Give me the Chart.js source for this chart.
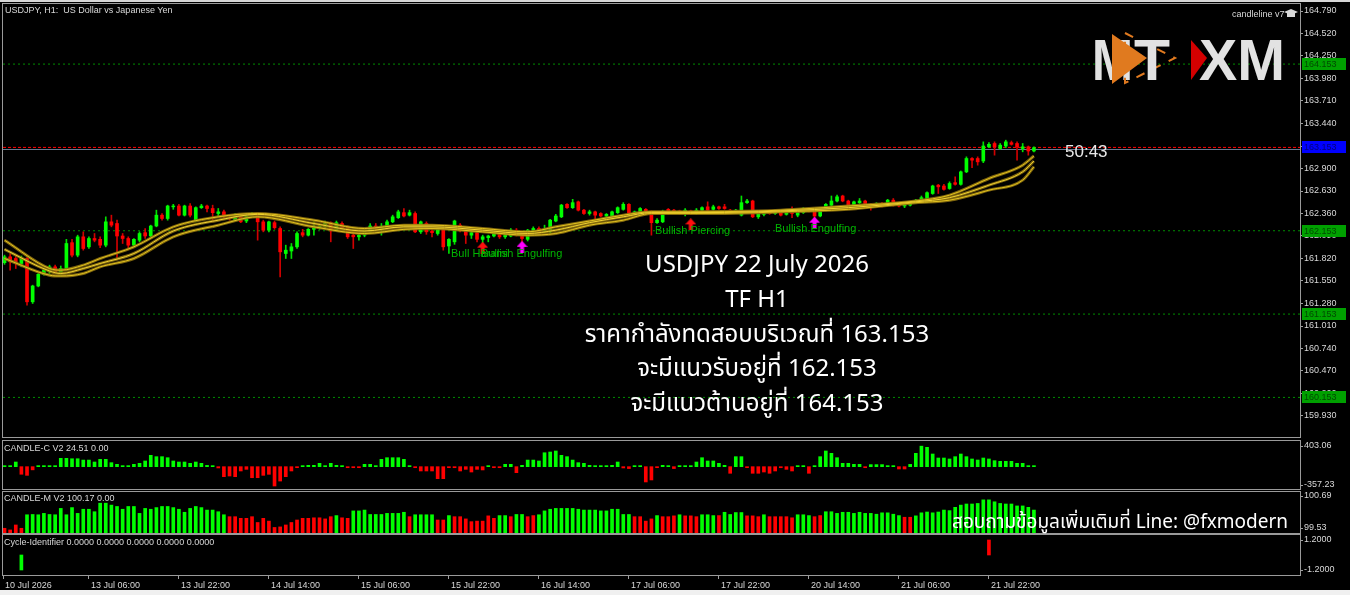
<!DOCTYPE html>
<html>
<head>
<meta charset="utf-8">
<title>USDJPY H1</title>
<script src="https://cdn.jsdelivr.net/npm/chart.js@4.4.1/dist/chart.umd.min.js"></script>
<style>
  html, body { margin: 0; padding: 0; background: #f0f0f0; }
  #wrap { position: relative; width: 1350px; height: 590px; background: #000; overflow: hidden; }
  #topline { position: absolute; left: 0; top: 0; width: 1350px; height: 2px; background: #d6d6d6; }
  canvas { position: absolute; left: 0; }
  .t { position: absolute; white-space: pre; font-family: "Liberation Sans", Arial, sans-serif; }
  .small { font-size: 9px; color: #d8d8d8; line-height: 10px; }
  .pat { font-size: 11px; color: #00b400; line-height: 12px; }
  #note { position: absolute; left: 557px; top: 248px; width: 400px; text-align: center; color: #fff;
          font-family: "Noto Sans Thai", "Noto Sans", "Open Sans", sans-serif; font-size: 24px; line-height: 34.8px; }
  #line { position: absolute; right: 62px; top: 511px; color: #fff; white-space: pre;
          font-family: "Noto Sans Thai", "Noto Sans", "Open Sans", sans-serif; font-size: 19px; line-height: 24px; }
</style>
</head>
<body>
<div id="wrap">
  <div id="topline"></div>
  <canvas id="main" width="1350" height="437" style="top:3px"></canvas>
  <canvas id="cc" width="1350" height="50" style="top:440px"></canvas>
  <canvas id="cm" width="1350" height="44" style="top:490px"></canvas>
  <canvas id="cy" width="1350" height="56" style="top:534px"></canvas>

  <div class="t small" style="left:5px;top:5px">USDJPY, H1:  US Dollar vs Japanese Yen</div>
  <div class="t small" style="left:1232px;top:9px">candleline v7</div>
  <svg style="position:absolute;left:1284px;top:8px" width="14" height="12">
    <polygon points="7,1 14,4 7,7 0,4" fill="#d8d8d8"/>
    <rect x="3" y="5" width="8" height="4" fill="#d8d8d8"/>
  </svg>
  <svg style="position:absolute;left:1085px;top:30px" width="210" height="58">
    <text x="7" y="50" font-family="Liberation Sans, Arial" font-weight="bold" font-size="58" fill="#e2e2e2" textLength="41" lengthAdjust="spacingAndGlyphs">M</text>
    <polygon points="40,3 90,28 40,53" fill="none" stroke="#e07a1f" stroke-width="2" stroke-dasharray="9 9"/>
    <polygon points="27,4 62,28 27,54" fill="#e07a1f"/>
    <text x="49" y="50" font-family="Liberation Sans, Arial" font-weight="bold" font-size="58" fill="#e2e2e2" textLength="36" lengthAdjust="spacingAndGlyphs">T</text>
    <polygon points="106,10 122,28 106,50" fill="#d40000"/>
    <text x="114" y="50" font-family="Liberation Sans, Arial" font-weight="bold" font-size="58" fill="#e2e2e2" textLength="86" lengthAdjust="spacingAndGlyphs">XM</text>
  </svg>
  <div class="t" style="left:1065px;top:142px;font-size:17px;color:#e8e8e8">50:43</div>

  <div class="t pat" style="left:451px;top:247px">Bull Harami</div>
  <div class="t pat" style="left:481px;top:247px">Bullish Engulfing</div>
  <div class="t pat" style="left:655px;top:224px">Bullish Piercing</div>
  <div class="t pat" style="left:775px;top:222px">Bullish Engulfing</div>

  <div id="note">USDJPY 22 July 2026<br>TF H1<br>ราคากำลังทดสอบบริเวณที่ 163.153<br>จะมีแนวรับอยู่ที่ 162.153<br>จะมีแนวต้านอยู่ที่ 164.153</div>

  <div class="t small" style="left:4px;top:443px">CANDLE-C V2 24.51 0.00</div>
  <div class="t small" style="left:4px;top:493px">CANDLE-M V2 100.17 0.00</div>
  <div class="t small" style="left:4px;top:537px">Cycle-Identifier 0.0000 0.0000 0.0000 0.0000 0.0000</div>
  <div id="line">สอบถามข้อมูลเพิ่มเติมที่ Line: @fxmodern</div>
</div>

<script>
// H1 candles, oldest first
const candleOpen = [
  161.77,161.84,161.82,161.76,161.82,161.30,161.49,161.63,161.66,161.72,
  161.65,161.70,162.01,161.86,162.08,161.96,162.06,162.05,161.98,162.26,
  162.24,162.09,162.06,161.98,162.04,162.13,162.09,162.21,162.34,162.30,
  162.44,162.45,162.34,162.45,162.28,162.43,162.45,162.42,162.36,162.38,
  162.31,162.28,162.32,162.27,162.34,162.35,162.26,162.16,162.25,162.18,
  161.88,161.91,161.96,162.13,162.10,162.17,162.19,162.20,162.25,162.16,
  162.24,162.20,162.10,162.08,162.10,162.14,162.21,162.18,162.20,162.26,
  162.31,162.37,162.34,162.36,162.14,162.24,162.15,162.12,162.17,161.97,
  162.02,162.22,162.16,162.10,162.13,162.05,162.07,162.09,162.13,162.08,
  162.09,162.16,162.12,162.05,162.14,162.18,162.14,162.14,162.27,162.32,
  162.47,162.43,162.50,162.40,162.36,162.38,162.36,162.33,162.33,162.37,
  162.41,162.47,162.36,162.37,162.41,162.38,162.25,162.26,162.41,162.40,
  162.39,162.37,162.39,162.36,162.40,162.44,162.41,162.44,162.44,162.40,
  162.37,162.34,162.49,162.51,162.32,162.35,162.38,162.36,162.38,162.35,
  162.39,162.34,162.37,162.41,162.40,162.33,162.40,162.46,162.51,162.57,
  162.51,162.45,162.49,162.51,162.47,162.45,162.48,162.46,162.52,162.48,
  162.45,162.46,162.49,162.51,162.50,162.60,162.70,162.69,162.66,162.73,
  162.71,162.86,163.02,163.02,162.99,163.16,163.20,163.14,163.17,163.21,
  163.20,163.14,163.16,163.11
];
const candleHigh = [
  161.86,161.88,161.86,161.85,161.83,161.50,161.64,161.70,161.74,161.74,
  161.73,162.05,162.05,162.10,162.14,162.08,162.12,162.08,162.32,162.34,
  162.28,162.12,162.08,162.06,162.14,162.18,162.22,162.40,162.36,162.46,
  162.47,162.47,162.46,162.48,162.44,162.47,162.46,162.46,162.42,162.40,
  162.33,162.36,162.34,162.36,162.37,162.36,162.28,162.27,162.27,162.20,
  161.98,162.00,162.14,162.17,162.18,162.26,162.23,162.27,162.26,162.27,
  162.26,162.21,162.12,162.12,162.16,162.24,162.24,162.24,162.28,162.34,
  162.40,162.42,162.40,162.38,162.27,162.26,162.18,162.20,162.18,162.06,
  162.28,162.24,162.17,162.16,162.14,162.10,162.10,162.14,162.15,162.12,
  162.18,162.18,162.14,162.17,162.20,162.20,162.22,162.29,162.35,162.47,
  162.48,162.53,162.51,162.41,162.40,162.39,162.37,162.36,162.39,162.44,
  162.49,162.48,162.39,162.43,162.42,162.39,162.30,162.40,162.42,162.41,
  162.40,162.42,162.40,162.42,162.44,162.50,162.46,162.45,162.47,162.41,
  162.41,162.57,162.53,162.52,162.37,162.39,162.40,162.40,162.39,162.40,
  162.44,162.39,162.43,162.42,162.41,162.41,162.48,162.57,162.58,162.58,
  162.52,162.51,162.54,162.52,162.48,162.49,162.49,162.53,162.54,162.49,
  162.48,162.50,162.53,162.57,162.62,162.70,162.71,162.71,162.74,162.80,
  162.87,163.04,163.03,163.04,163.22,163.21,163.22,163.20,163.24,163.23,
  163.22,163.20,163.17,163.16
];
const candleLow = [
  161.75,161.68,161.70,161.72,161.26,161.28,161.48,161.62,161.64,161.64,
  161.62,161.68,161.84,161.84,161.92,161.94,162.02,161.95,161.96,162.20,
  161.81,162.00,161.95,161.96,162.02,162.06,162.08,162.20,162.28,162.28,
  162.41,162.33,162.33,162.32,162.26,162.42,162.38,162.26,162.33,162.31,
  162.28,162.27,162.25,162.25,162.33,162.04,162.14,162.14,162.17,161.60,
  161.82,161.82,161.94,162.08,162.09,162.10,162.17,162.19,162.02,162.15,
  162.17,162.06,161.94,162.04,162.08,162.12,162.16,162.10,162.19,162.25,
  162.30,162.32,162.33,162.13,162.12,162.11,162.08,162.10,161.92,161.88,
  161.99,162.14,162.00,162.06,162.02,162.00,162.02,162.08,162.06,162.06,
  162.08,162.09,161.98,162.03,162.12,162.12,162.13,162.13,162.26,162.31,
  162.42,162.42,162.39,162.35,162.34,162.29,162.32,162.31,162.32,162.36,
  162.40,162.35,162.35,162.36,162.37,162.10,162.24,162.25,162.35,162.36,
  162.35,162.33,162.35,162.35,162.39,162.39,162.40,162.41,162.41,162.36,
  162.36,162.33,162.48,162.31,162.30,162.33,162.35,162.35,162.33,162.34,
  162.31,162.32,162.36,162.38,162.25,162.32,162.39,162.45,162.50,162.50,
  162.45,162.44,162.48,162.46,162.40,162.44,162.44,162.45,162.45,162.44,
  162.43,162.45,162.48,162.50,162.49,162.59,162.60,162.64,162.65,162.70,
  162.70,162.85,162.91,162.94,162.97,163.15,163.06,163.13,163.15,163.18,
  163.00,163.10,163.06,163.10
];
const candleClose = [
  161.84,161.78,161.76,161.82,161.30,161.49,161.63,161.68,161.72,161.66,
  161.70,162.00,161.86,162.08,161.94,162.06,162.04,161.98,162.26,162.22,
  162.09,162.06,161.98,162.05,162.12,162.09,162.21,162.34,162.30,162.45,
  162.45,162.34,162.45,162.34,162.43,162.45,162.42,162.37,162.38,162.33,
  162.30,162.33,162.26,162.34,162.35,162.26,162.16,162.26,162.19,161.90,
  161.92,161.96,162.12,162.10,162.17,162.20,162.21,162.25,162.15,162.25,
  162.19,162.08,162.08,162.10,162.14,162.21,162.18,162.20,162.26,162.32,
  162.38,162.33,162.37,162.14,162.26,162.14,162.13,162.18,161.96,162.05,
  162.27,162.16,162.10,162.13,162.05,162.08,162.09,162.13,162.08,162.10,
  162.16,162.11,162.06,162.16,162.18,162.13,162.16,162.28,162.33,162.46,
  162.43,162.49,162.40,162.36,162.38,162.34,162.33,162.35,162.38,162.43,
  162.47,162.36,162.38,162.42,162.38,162.25,162.28,162.38,162.37,162.37,
  162.37,162.40,162.36,162.40,162.43,162.40,162.44,162.42,162.42,162.37,
  162.40,162.49,162.51,162.32,162.36,162.38,162.36,162.38,162.34,162.39,
  162.36,162.38,162.42,162.39,162.33,162.40,162.47,162.51,162.56,162.51,
  162.46,162.50,162.51,162.47,162.45,162.48,162.45,162.52,162.46,162.45,
  162.47,162.49,162.52,162.55,162.61,162.69,162.68,162.65,162.72,162.71,
  162.86,163.02,163.00,162.98,163.17,163.19,163.16,163.18,163.22,163.19,
  163.16,163.16,163.11,163.15
];

// the three moving averages, sampled at these bars
const maIdx  = [0, 8, 10, 14, 17, 23, 30, 38, 45, 55, 64, 71, 76, 85, 93, 98, 104, 110, 115, 122, 134, 138, 150, 162, 168, 175, 181, 183];
const maFast = [162.04,161.70,161.68,161.74,161.82,161.96,162.20,162.32,162.36,162.28,162.18,162.22,162.22,162.18,162.14,162.20,162.27,162.34,162.38,162.38,162.39,162.40,162.45,162.51,162.58,162.78,162.94,163.05];
const maMid  = [161.93,161.67,161.64,161.70,161.76,161.88,162.15,162.28,162.35,162.24,162.15,162.20,162.20,162.16,162.12,162.16,162.25,162.32,162.37,162.37,162.38,162.39,162.43,162.50,162.55,162.70,162.86,162.99];
const maSlow = [161.82,161.62,161.61,161.64,161.72,161.82,162.08,162.22,162.32,162.20,162.12,162.17,162.18,162.14,162.10,162.12,162.22,162.28,162.36,162.36,162.37,162.38,162.41,162.49,162.52,162.64,162.76,162.92];

// candle pattern arrows
const patternIdx   = [85, 92, 122, 144];
const patternPrice = [161.95, 161.96, 162.23, 162.25];
const patternKind  = ['harami', 'engulfing', 'piercing', 'engulfing'];

// horizontal levels
const levelLines = [164.153, 162.153, 161.153, 160.153];
const bidPrice = 163.153;
const askPrice = 163.128;

// CANDLE-C V2 histogram
const candleC = [
  20,20,91,-148,-169,-62,20,20,20,20,
  163,163,155,155,129,129,91,143,143,78,
  46,20,20,46,65,111,221,195,195,175,
  111,91,91,65,91,65,25,20,-25,-195,
  -182,-195,-84,-52,-215,-215,-169,-149,-377,-280,
  -195,-84,-20,20,26,26,65,20,65,26,
  20,-20,-20,-20,46,46,20,143,175,175,
  175,143,20,-20,-84,-84,-84,-234,-234,-20,
  -20,-84,-52,-104,-52,-64,20,-20,-20,46,
  46,-117,26,129,129,111,272,286,306,221,
  195,129,78,65,26,20,20,20,26,91,
  -25,-37,20,20,-298,-259,-20,26,20,-37,
  20,20,20,91,175,111,111,65,26,-129,
  195,195,-20,-129,-129,-104,-129,-84,-20,-52,
  -84,20,20,-129,20,195,306,260,175,65,
  65,46,46,-20,40,40,40,20,20,-45,
  -45,45,260,400,377,247,169,169,150,195,
  247,195,150,130,169,150,117,104,104,104,
  65,65,20,20
];

// CANDLE-M V2 histogram and its colour state (u = green, d = red)
const candleM = [
  99.52,99.46,99.64,99.52,100.01,100.02,100.01,100.06,100.02,100.01,
  100.24,100.01,100.27,100.06,100.21,100.21,100.12,100.43,100.43,100.36,
  100.31,100.21,100.31,100.31,100.06,100.24,100.21,100.27,100.31,100.31,
  100.27,100.21,100.10,100.24,100.31,100.27,100.18,100.18,100.12,100.01,
  99.94,99.94,99.88,99.88,99.94,99.73,99.88,99.78,99.55,99.57,
  99.64,99.73,99.82,99.88,99.88,99.90,99.90,99.86,99.94,99.98,
  99.90,99.88,100.15,100.15,100.18,100.02,100.02,100.02,100.06,100.06,
  100.06,100.10,99.94,100.01,100.01,100.01,100.01,99.82,99.82,99.98,
  99.94,99.94,99.86,99.76,99.78,99.78,99.97,99.88,99.98,99.98,
  99.94,100.02,100.02,99.94,99.98,100.01,100.15,100.21,100.24,100.24,
  100.24,100.24,100.21,100.18,100.18,100.18,100.15,100.15,100.21,100.21,
  100.02,100.02,99.94,99.94,99.78,99.86,99.98,99.94,99.94,99.97,
  100.01,99.97,99.97,99.94,100.01,100.01,99.98,99.98,100.10,100.02,
  100.09,100.09,99.97,99.97,99.94,100.01,99.94,99.94,99.94,99.94,
  99.90,100.01,100.01,99.98,99.94,99.98,100.12,100.12,100.06,100.10,
  100.10,100.06,100.10,100.06,100.06,100.03,100.08,100.08,100.03,99.98,
  99.92,99.92,99.97,100.08,100.11,100.08,100.11,100.18,100.16,100.28,
  100.36,100.40,100.40,100.42,100.55,100.55,100.48,100.42,100.40,100.40,
  100.33,100.33,100.28,100.18
];
const candleMDir = (
  'dddduuuuuu' + 'uuuuuuuuuu' + 'uuuuuuuuuu' + 'uuuuuuuuuu' + 'dddddddddd' +
  'dddddddddu' + 'dduuuuuuuu' + 'uuduuuuddu' + 'dddddddduu' + 'duudduuuuu' +
  'uuuuuuuuuu' + 'uudddduddd' + 'uddduuuduu' + 'uudddudddd' + 'duuudduuuu' +
  'uuuuuuuuuu' + 'dduuuuuuuu' + 'uuuuuuuuuu' + 'uuuu'
).split('');

// Cycle-Identifier signals
const cycleIdx = [3, 175];
const cycleVal = [-1.2, 1.2];

// axis ticks
const priceTicks = [164.79,164.52,164.25,163.98,163.71,163.44,163.17,162.90,162.63,162.36,162.09,161.82,161.55,161.28,161.01,160.74,160.47,160.20,159.93];
const timeTickIdx = [-0.25, 15, 31, 47, 63, 79, 95, 111, 127, 143, 159, 175];
const timeTickLabels = ['10 Jul 2026', '13 Jul 06:00', '13 Jul 22:00', '14 Jul 14:00', '15 Jul 06:00', '15 Jul 22:00',
                        '16 Jul 14:00', '17 Jul 06:00', '17 Jul 22:00', '20 Jul 14:00', '21 Jul 06:00', '21 Jul 22:00'];

const xMin = -0.27;
const xMax = 230.3;
const upColor = '#00ff00';
const downColor = '#ff0000';
const axisColor = '#a0a0a0';
const labelColor = '#d8d8d8';

Chart.defaults.font.family = '"Liberation Sans", Arial, sans-serif';
Chart.defaults.font.size = 9;

const isUp = i => candleClose[i] >= candleOpen[i];

const xScale = (show) => ({
    type: 'linear',
    min: xMin,
    max: xMax,
    offset: false,
    display: show,
    grid: { drawOnChartArea: false, drawTicks: true, tickLength: 4, tickColor: axisColor, offset: false },
    border: { display: false },
    ticks: {
        color: labelColor, align: 'start', labelOffset: 2, padding: 1,
        maxRotation: 0, autoSkip: false,
        callback: (v, i) => timeTickLabels[i]
    },
    afterBuildTicks: s => { if (show) s.ticks = timeTickIdx.map(v => ({ value: v })); },
    afterFit: s => {
        if (show) s.height = 15;
        s.paddingLeft = 0;
        s.paddingRight = 0;
    }
});

const yScale = (min, max, tickVals, digits) => ({
    type: 'linear',
    position: 'right',
    min: min,
    max: max,
    grid: { drawOnChartArea: false, drawTicks: true, tickLength: 3, tickColor: axisColor },
    border: { color: axisColor },
    ticks: { color: labelColor, padding: 1, autoSkip: false, callback: v => v.toFixed(digits) },
    afterBuildTicks: s => { s.ticks = tickVals.map(v => ({ value: v })); },
    afterFit: s => { s.width = 50; s.paddingTop = 0; s.paddingBottom = 0; }
});

// grey frame round every sub window
const framePlugin = {
    id: 'frame',
    afterDraw(chart) {
        const { ctx, chartArea: a } = chart;
        ctx.save();
        ctx.strokeStyle = '#9a9a9a';
        ctx.lineWidth = 1;
        ctx.strokeRect(a.left - 0.5, a.top - 0.5, a.right - a.left + 1, a.bottom - a.top + 1);
        ctx.restore();
    }
};

// price tags on the right axis for the levels and the bid
const levelTags = {
    id: 'levelTags',
    afterDraw(chart) {
        const { ctx, chartArea: a, scales: { y } } = chart;
        ctx.save();
        ctx.font = '9px "Liberation Sans", Arial';
        ctx.textBaseline = 'middle';
        const tag = (v, bg, fg) => {
            const py = Math.round(y.getPixelForValue(v));
            ctx.fillStyle = bg;
            ctx.fillRect(a.right + 2, py - 6, 44, 12);
            ctx.fillStyle = fg;
            ctx.fillText(v.toFixed(3), a.right + 4, py + 0.5);
        };
        levelLines.forEach(v => tag(v, '#00a000', '#004a00'));
        tag(bidPrice, '#0000ff', '#00007a');
        ctx.restore();
    }
};

const makeArrow = color => {
    const c = document.createElement('canvas');
    c.width = 11; c.height = 12;
    const g = c.getContext('2d');
    g.fillStyle = color;
    g.beginPath();
    g.moveTo(5.5, 0); g.lineTo(11, 6); g.lineTo(7.5, 6); g.lineTo(7.5, 12);
    g.lineTo(3.5, 12); g.lineTo(3.5, 6); g.lineTo(0, 6);
    g.closePath();
    g.fill();
    return c;
};
const arrowImg = { harami: makeArrow('#ff1010'), piercing: makeArrow('#ff1010'), engulfing: makeArrow('#ff00ff') };

const baseOptions = (scales, padding) => ({
    responsive: false,
    animation: false,
    devicePixelRatio: 1,
    events: [],
    layout: { padding: padding, autoPadding: false },
    plugins: { legend: { display: false }, tooltip: { enabled: false } },
    scales: scales
});

const hLine = (v, color, dash) => ({
    type: 'line',
    data: [{ x: xMin, y: v }, { x: xMax, y: v }],
    borderColor: color,
    borderWidth: 1,
    borderDash: dash,
    pointRadius: 0,
    order: 10
});

const maLine = (vals, color, width, order) => ({
    type: 'line',
    data: maIdx.map((x, k) => ({ x: x, y: vals[k] })),
    borderColor: color,
    borderWidth: width,
    pointRadius: 0,
    cubicInterpolationMode: 'monotone',
    order: order
});

// main price window
new Chart(document.getElementById('main'), {
    type: 'bar',
    data: {
        datasets: [
            ...levelLines.map(v => hLine(v, '#008c00', [2, 3])),
            hLine(askPrice, '#6a7890', []),
            hLine(bidPrice, '#ff0000', [3, 2]),
            {
                data: candleLow.map((v, i) => ({ x: i, y: [v, candleHigh[i]] })),
                backgroundColor: ctx => isUp(ctx.dataIndex) ? '#00e000' : '#d00000',
                barThickness: 1,
                grouped: false,
                order: 6
            },
            {
                data: candleOpen.map((v, i) => ({ x: i, y: [v, candleClose[i]] })),
                backgroundColor: ctx => isUp(ctx.dataIndex) ? upColor : downColor,
                barThickness: 3,
                grouped: false,
                order: 5
            },
            maLine(maSlow, 'rgba(140,112,14,0.9)', 3, 4),
            maLine(maMid, 'rgba(140,112,14,0.9)', 3, 4),
            maLine(maFast, 'rgba(140,112,14,0.9)', 3, 4),
            maLine(maSlow, '#e2c21e', 1, 3),
            maLine(maMid, '#f0d232', 1, 3),
            maLine(maFast, '#e2c21e', 1, 3),
            {
                type: 'line',
                data: patternIdx.map((x, k) => ({ x: x, y: patternPrice[k] })),
                showLine: false,
                pointStyle: ctx => arrowImg[patternKind[ctx.dataIndex]],
                pointRadius: 6,
                order: 1
            }
        ]
    },
    options: baseOptions({ x: xScale(false), y: yScale(159.678, 164.874, priceTicks, 3) },
                         { left: 3, right: 0, top: 1, bottom: 3 }),
    plugins: [framePlugin, levelTags]
});

// CANDLE-C V2
new Chart(document.getElementById('cc'), {
    type: 'bar',
    data: {
        datasets: [{
            data: candleC.map((v, i) => ({ x: i, y: v })),
            backgroundColor: ctx => candleC[ctx.dataIndex] >= 0 ? upColor : downColor,
            barThickness: 3,
            grouped: false
        }]
    },
    options: baseOptions({ x: xScale(false), y: yScale(-435.2, 500.6, [403.06, -357.23], 2) },
                         { left: 3, right: 0, top: 1, bottom: 1 }),
    plugins: [framePlugin]
});

// CANDLE-M V2
const cmMin = 99.349;
new Chart(document.getElementById('cm'), {
    type: 'bar',
    data: {
        datasets: [{
            data: candleM.map((v, i) => ({ x: i, y: v })),
            backgroundColor: ctx => candleMDir[ctx.dataIndex] === 'u' ? upColor : downColor,
            base: cmMin,
            barThickness: 3,
            grouped: false
        }]
    },
    options: baseOptions({ x: xScale(false), y: yScale(cmMin, 100.835, [100.69, 99.53], 2) },
                         { left: 3, right: 0, top: 2, bottom: 1 }),
    plugins: [framePlugin]
});

// Cycle-Identifier, with the time axis underneath
new Chart(document.getElementById('cy'), {
    type: 'bar',
    data: {
        datasets: [{
            data: cycleIdx.map((x, k) => ({ x: x, y: cycleVal[k] })),
            backgroundColor: ctx => cycleVal[ctx.dataIndex] < 0 ? upColor : downColor,
            barThickness: 3,
            grouped: false
        }]
    },
    options: baseOptions({ x: xScale(true), y: yScale(-1.6, 1.6, [1.2, -1.2], 4) },
                         { left: 3, right: 0, top: 1, bottom: 0 }),
    plugins: [framePlugin]
});
</script>
</body>
</html>
